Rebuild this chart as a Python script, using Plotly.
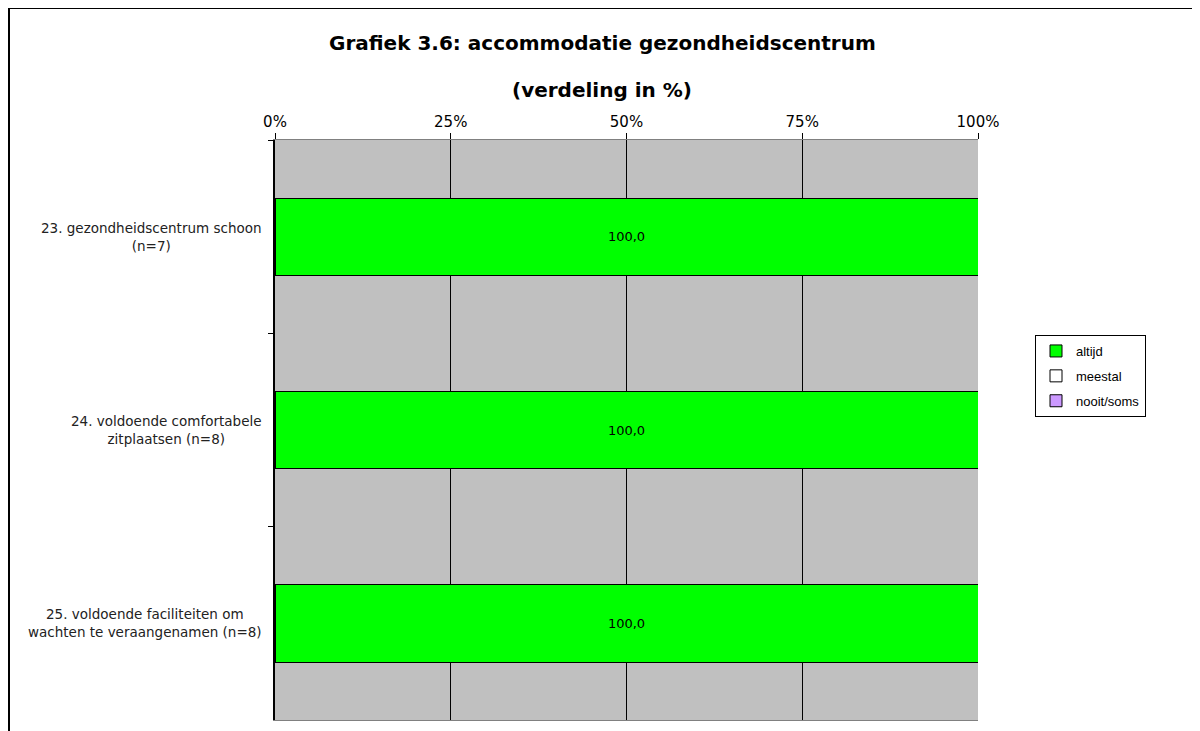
import plotly.graph_objects as go

# data
items = [
    "23. gezondheidscentrum schoon<br>(n=7)",
    "24. voldoende comfortabele<br>zitplaatsen (n=8)",
    "25. voldoende faciliteiten om<br>wachten te veraangenamen (n=8)",
]
altijd = [100.0, 100.0, 100.0]
meestal = [0.0, 0.0, 0.0]
nooit_soms = [0.0, 0.0, 0.0]
x_ticks = [0, 25, 50, 75, 100]
x_tick_labels = ["0%", "25%", "50%", "75%", "100%"]

series = [
    ("altijd", altijd, "#00FF00"),
    ("meestal", meestal, "#FFFFFF"),
    ("nooit/soms", nooit_soms, "#CC99FF"),
]

# page body has an 8px margin, so work in page pixels minus 8
OFF = 8
W, H = 1200 - OFF, 731 - OFF
L, R, T, B = 275 - OFF, 978 - OFF, 140 - OFF, 720 - OFF
pw, ph = R - L, B - T


def px(x):
    return (x - OFF - L) / pw


def py(y):
    return (B - (y - OFF)) / ph


fig = go.Figure()
for name, vals, color in series:
    fig.add_trace(go.Bar(
        y=items, x=vals, name=name, orientation="h", legendgroup=name,
        marker=dict(color=color, line=dict(color="black", width=1)),
        width=0.4,
        text=[f"{v:.1f}".replace(".", ",") if v > 0 else "" for v in vals],
        textposition="inside", insidetextanchor="middle",
        textfont=dict(family="DejaVu Sans, Verdana", size=13, color="black"),
    ))

fig.update_layout(
    width=W, height=H,
    margin=dict(l=L, r=W - R, t=T, b=H - B),
    barmode="stack",
    paper_bgcolor="white",
    plot_bgcolor="#C0C0C0",
    font=dict(family="DejaVu Sans, Verdana", color="black"),
    showlegend=True,
    legend=dict(
        x=px(1035), y=py(335), xanchor="left", yanchor="top",
        bgcolor="white", bordercolor="black", borderwidth=1,
        font=dict(family="Liberation Sans, Arial", size=13),
        traceorder="grouped", tracegroupgap=5, itemwidth=30,
    ),
    xaxis=dict(
        side="top", range=[0, 100], tickvals=x_ticks, ticktext=x_tick_labels,
        showgrid=True, gridcolor="black", gridwidth=1,
        ticks="outside", ticklen=6, tickcolor="black",
        tickfont=dict(size=15), showline=True, linecolor="#808080",
        mirror=True, zeroline=False, fixedrange=True,
    ),
    yaxis=dict(
        autorange="reversed", showticklabels=False,
        ticks="outside", ticklen=5, tickcolor="black", tickson="boundaries",
        showline=True, linecolor="black", linewidth=2, showgrid=False,
    ),
)

# category labels, centred lines
for it in items:
    fig.add_annotation(
        x=px(264), xref="paper", y=it, yref="y",
        text=it, showarrow=False, xanchor="right", yanchor="middle",
        align="center", font=dict(size=13.5, color="#222222"),
    )

# title
fig.add_annotation(x=px(602), y=py(43), xref="paper", yref="paper",
                   xanchor="center", yanchor="middle",
                   text="<b>Grafiek 3.6: accommodatie gezondheidscentrum</b>",
                   showarrow=False, font=dict(size=20))
fig.add_annotation(x=px(602), y=py(90), xref="paper", yref="paper",
                   xanchor="center", yanchor="middle",
                   text="<b>(verdeling in %)</b>",
                   showarrow=False, font=dict(size=20))

# outer chart border
fig.add_shape(type="rect", xref="paper", yref="paper",
              x0=px(9), x1=px(1220), y0=py(760), y1=py(8),
              line=dict(color="black", width=2), fillcolor="rgba(0,0,0,0)", layer="below")

fig.write_html("out.html")
